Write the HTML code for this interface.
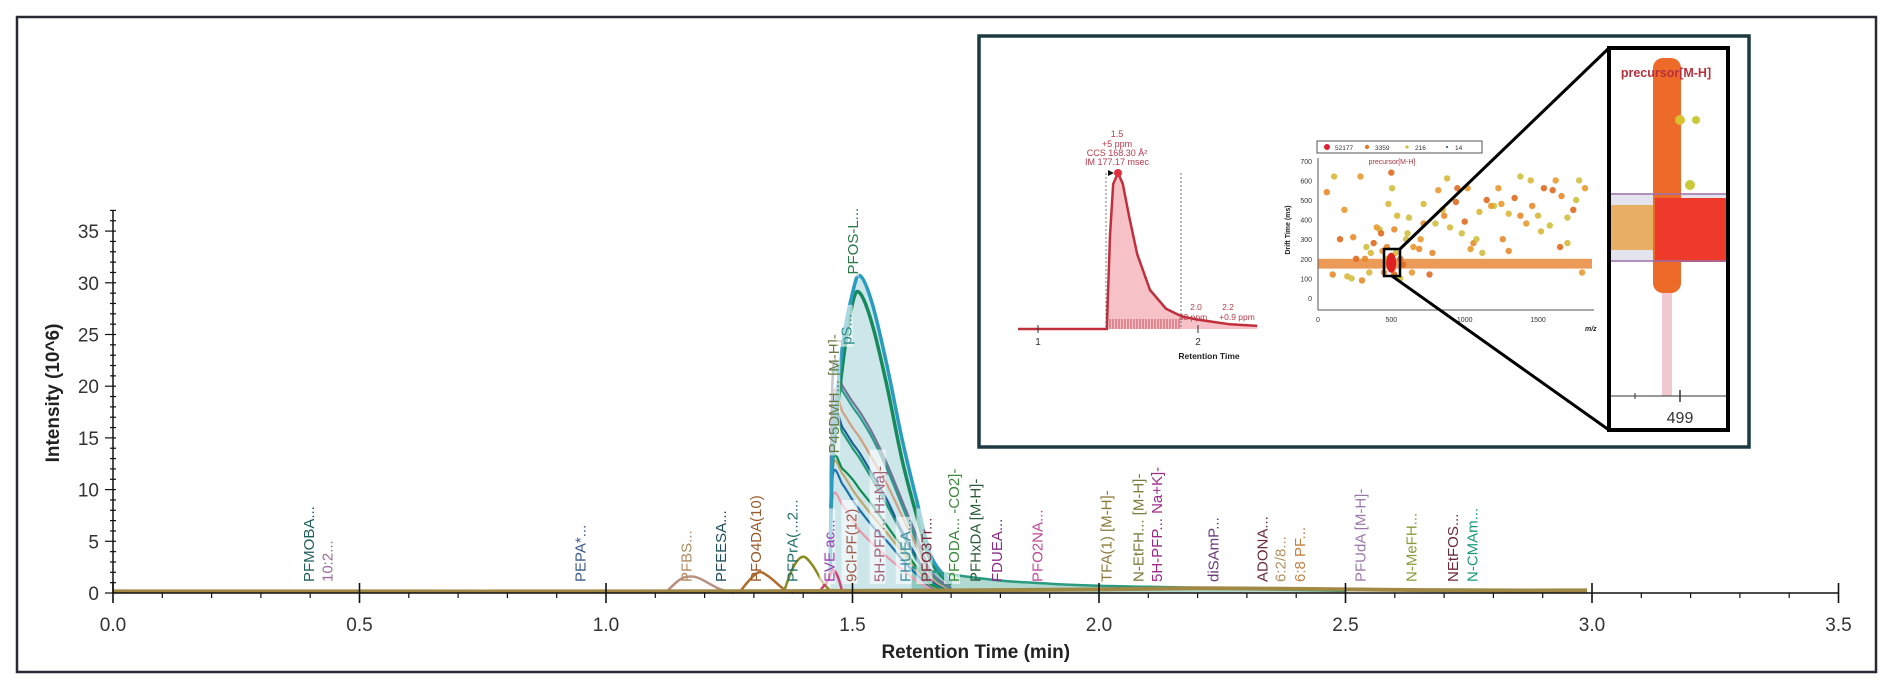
<!DOCTYPE html>
<html><head><meta charset="utf-8"><style>
html,body{margin:0;padding:0;background:#fff;}
svg{display:block;font-family:"Liberation Sans",sans-serif;}
</style></head><body>
<svg id="chart" width="1889" height="696" viewBox="0 0 1889 696" xmlns="http://www.w3.org/2000/svg">
<rect x="17" y="17" width="1859" height="655" fill="none" stroke="#2a2a35" stroke-width="2.5"/>
<g id="main"></g>
<g id="inset"></g>
</svg>
<script>
// ===== main chromatogram data =====
const xTicks = [0.0,0.5,1.0,1.5,2.0,2.5,3.0,3.5];
const yTicks = [0,5,10,15,20,25,30,35];
const clusterTimes = [1.455,1.46,1.48,1.50,1.515,1.54,1.57,1.60,1.63,1.66,1.70];
const sBlue   = [2,14,24,29,30.7,28,22,15,9,3.5,1];
const sGreen  = [2,13,22,28,29,26,20,13,7.5,3,0.8];
const sSlate  = [2,21.4,20,18.5,17.5,15.5,12.5,9,5.5,2,0.5];
const sTeal   = [2,20.6,19.5,18,17,15,12,8.5,5,1.8,0.4];
const sTan    = [2,18.7,17.5,16,15,13,10.5,7.5,4.5,1.5,0.3];
const sNavy   = [2,17.2,16,14.5,13.5,11.5,9,6,3.5,1.2,0.3];
const sGreen3 = [2,16.7,15.5,14,13,11,8.5,5.8,3.2,1,0.2];
const sGreen2 = [2,12.7,12,11,10,8.5,6.5,4.5,2.5,0.8,0.2];
const sTan2   = [2,12.2,11.5,10,9,7.5,5.8,4,2.2,0.7,0.1];
const sBlue2  = [2,11.4,10.5,9,8,6.5,5,3.3,1.8,0.6,0.1];
const sPink   = [1.5,9.3,8.5,7,6,4.8,3.5,2.3,1.2,0.4,0.1];
const tailTimes = [1.62,1.70,1.80,1.90,2.00,2.10,2.20,2.30,2.40,2.50];
const tailVals  = [2.5,1.8,1.2,0.9,0.7,0.6,0.5,0.4,0.3,0.2];
const pfbsTimes = [1.12,1.15,1.17,1.19,1.23,1.26];
const pfbsVals  = [0,1.3,1.6,1.4,0.4,0];
const pfo4Times = [1.27,1.29,1.31,1.33,1.36,1.38];
const pfo4Vals  = [0,1.2,2.0,1.6,0.4,0];
const pfprTimes = [1.36,1.38,1.40,1.42,1.44,1.46];
const pfprVals  = [0,2.5,3.5,2.6,1.0,0];
const eveTimes  = [1.43,1.45,1.46,1.47,1.48];
const eveVals   = [0,1.2,2.2,1.6,0];
const baseTimes = [0,0.5,1.0,1.5,2.0,2.2,2.4,2.6,2.8,2.99];
const baseVals  = [0.15,0.15,0.15,0.2,0.35,0.45,0.4,0.3,0.25,0.25];
const labelNames = ["PFMOBA...","10:2...","PEPA*...","PFBS...","PFEESA...","PFO4DA(10)","PFPrA(...2...","EVE ac...","9Cl-PF(12)","P45DMH... [M-H]-","pS...","PFOS-L...","5H-PFP... H+Na]-","FHUEA...","PFO3Tr...","PFODA... -CO2]-","PFHxDA [M-H]-","FDUEA...","PFO2NA...","TFA(1) [M-H]-","N-EtFH... [M-H]-","5H-PFP... Na+K]-","diSAmP...","ADONA...","6:2/8...","6:8 PF...","PFUdA [M-H]-","N-MeFH...","NEtFOS...","N-CMAm..."];
const labelTimes = [0.40,0.437,0.95,1.165,1.235,1.306,1.38,1.455,1.50,1.465,1.49,1.503,1.557,1.61,1.652,1.708,1.752,1.795,1.877,2.017,2.082,2.12,2.234,2.334,2.37,2.41,2.532,2.636,2.72,2.76];
const labelLevels = [0,0,0,0,0,0,0,0,0,13.5,24,30.8,0,0,0,0,0,0,0,0,0,0,0,0,0,0,0,0,0,0];
const labelColors = ["#1f5f5a","#9a6a9a","#3a5a8a","#b08a60","#1f4f5a","#9a5a2a","#1f6f6a","#9a3ab0","#a05a4a","#6a7a40","#2a8a8a","#2a7a4a","#a0607a","#3a8aa0","#7a2a3a","#3a8a3a","#2a5a3a","#8a2a8a","#c04a9a","#8a7a3a","#7a7a3a","#a02a8a","#6a3a7a","#6a2a3a","#b09060","#c08040","#9a7aaa","#8a9a3a","#6a2a3a","#1a9a7a"];

const NS = "http://www.w3.org/2000/svg";
const X0 = 113, XPU = 493, Y0 = 593, YPU = 10.34;
const xs = t => X0 + t*XPU;
const ys = v => Y0 - v*YPU;
function mk(tag, attrs, parent){ const e=document.createElementNS(NS,tag); for(const k in attrs) e.setAttribute(k,attrs[k]); parent.appendChild(e); return e; }
const main = document.getElementById('main');

function pathFrom(times, vals){
  const P = times.map((t,i)=>[xs(t),ys(vals[i])]);
  let d = 'M'+P[0][0].toFixed(1)+' '+P[0][1].toFixed(1);
  for(let i=0;i<P.length-1;i++){
    const p0=P[Math.max(0,i-1)],p1=P[i],p2=P[i+1],p3=P[Math.min(P.length-1,i+2)];
    let c1x=p1[0]+(p2[0]-p0[0])/6, c1y=p1[1]+(p2[1]-p0[1])/6;
    let c2x=p2[0]-(p3[0]-p1[0])/6, c2y=p2[1]-(p3[1]-p1[1])/6;
    if(i===0){c1x=p1[0];c1y=p1[1];}
    d+=` C${c1x.toFixed(1)} ${c1y.toFixed(1)} ${c2x.toFixed(1)} ${c2y.toFixed(1)} ${p2[0].toFixed(1)} ${p2[1].toFixed(1)}`;
  }
  return d;
}
let fill = mk('path',{d:pathFrom(clusterTimes,sBlue)+' L'+xs(1.70)+' '+ys(0)+' L'+xs(1.455)+' '+ys(0)+' Z',fill:'rgba(120,190,200,0.38)',stroke:'none'},main);


let tailFill = mk('path',{d:pathFrom(tailTimes,tailVals)+' L'+xs(2.5)+' '+ys(0)+' L'+xs(1.62)+' '+ys(0)+' Z',fill:'rgba(30,150,120,0.35)'},main);



// series lines
const clusterSeries = [sPink,sBlue2,sTan2,sGreen2,sGreen3,sNavy,sTan,sTeal,sSlate,sGreen,sBlue];
const clusterColors = ["#e898a8","#1b70b0","#c0a870","#0f8a50","#1a9a70","#1e5f9a","#d0a080","#2a9a8a","#6f7496","#178a5c","#2a9cc0"];
clusterSeries.forEach((vals,i)=>{
  const p = mk('path',{d:pathFrom(clusterTimes,vals),fill:'none',stroke:clusterColors[i],'stroke-width':i>=9?3.5:2.2,'stroke-linejoin':'round'},main);
  
  
});
const smalls = [[pfbsTimes,pfbsVals,"#b89080"],[pfo4Times,pfo4Vals,"#b06a2a"],[pfprTimes,pfprVals,"#8a8a20"],[eveTimes,eveVals,"#d04070"],[tailTimes,tailVals,"#2a9a80"]];
smalls.forEach(s=>{
  const p = mk('path',{d:pathFrom(s[0],s[1]),fill:'none',stroke:s[2],'stroke-width':2.5},main);
  
  
});
const base = mk('path',{d:pathFrom(baseTimes,baseVals),fill:'none',stroke:'#a08845','stroke-width':4},main);



// labels
labelNames.forEach((name,i)=>{
  const x = xs(labelTimes[i]);
  const yb = labelLevels[i] ? ys(labelLevels[i]) : 582;
  const g = mk('g',{transform:`translate(${x.toFixed(1)},${yb.toFixed(1)}) rotate(-90)`},main);
  
  
  const w = name.length*8.4;
  if (labelTimes[i]>1.44 && labelTimes[i]<1.72){
    const bg = mk('rect',{x:-2,y:-11,width:w,height:16,fill:'rgba(255,255,255,0.6)'},g);
    
    
  }
  const t = mk('text',{x:0,y:4,'font-size':'15',fill:labelColors[i]},g);
  t.textContent = name;
  
  
});

// axes
const xa = mk('line',{x1:X0,y1:Y0,x2:xs(3.5),y2:Y0,stroke:'#111','stroke-width':1.5},main);


const ya = mk('line',{x1:X0,y1:ys(37),x2:X0,y2:Y0,stroke:'#111','stroke-width':1.5},main);


for(let k=0;k<=35;k++){
  const t=k/10, major=(k%5===0);
  const tk = mk('line',{x1:xs(t),y1:major?Y0-10:Y0,x2:xs(t),y2:Y0+(major?10:5),stroke:'#111','stroke-width':major?1.6:1.2},main);
  
  
}
xTicks.forEach(v=>{
  const t = mk('text',{x:xs(v),y:Y0+38,'font-size':'19','text-anchor':'middle',fill:'#333'},main);
  t.textContent = v.toFixed(1);
  
  
});
for(let v=0;v<=37;v++){
  const major=(v%5===0);
  const tk = mk('line',{x1:X0-(major?8:3),y1:ys(v),x2:X0+3,y2:ys(v),stroke:'#111','stroke-width':1.2},main);
  
  
}
yTicks.forEach(v=>{
  const t = mk('text',{x:X0-14,y:ys(v)+7,'font-size':'19','text-anchor':'end',fill:'#333'},main);
  t.textContent = v;
  
  
});
const xt = mk('text',{x:xs(1.75),y:658,'font-size':'19','font-weight':'bold','text-anchor':'middle',fill:'#222'},main);
xt.textContent='Retention Time (min)';


const yt = mk('text',{x:0,y:0,'font-size':'19','font-weight':'bold','text-anchor':'middle',fill:'#222',transform:'translate(59,393) rotate(-90)'},main);
yt.textContent='Intensity (10^6)';



// ===== inset =====
const insetTimes = [0.875,1.40,1.43,1.45,1.47,1.50,1.53,1.57,1.62,1.70,1.80,1.90,2.00,2.10,2.20,2.37];
const insetVals  = [0,0,0,0.6,0.93,1.0,0.93,0.72,0.48,0.25,0.13,0.08,0.06,0.045,0.03,0.02];
const mzValues = [60,110,150,230,290,320,350,380,420,440,470,480,500,505,510,520,540,560,600,640,690,720,760,800,820,860,900,940,980,1020,1060,1100,1150,1200,1230,1260,1300,1340,1380,1420,1460,1500,1540,1580,1620,1660,1700,1740,1780,1820,100,200,260,330,400,450,530,580,620,700,780,880,1000,1120,1250,1380,1520,1650,1760,180,300,360,430,560,650,720,850,950,1080,1180,1300,1450,1600,1700,1800,240,470,520,610,1040];
const driftValues = [540,620,300,100,620,200,130,280,350,240,260,480,640,560,150,350,420,200,300,130,250,480,120,380,550,420,360,490,330,560,280,440,500,470,560,300,430,510,620,380,470,420,560,370,600,520,280,450,600,560,120,110,200,260,360,130,230,170,410,300,230,610,390,230,480,420,340,260,500,450,90,230,330,100,260,380,450,560,300,470,240,600,550,410,130,310,200,120,330,250];
const dotColors = ["#e88a2a","#d9b83a","#e06a20","#cfc040","#e89a30"];
const inset = document.getElementById('inset');
const ib = mk('rect',{x:979,y:36,width:770,height:411,fill:'#fff',stroke:'#1c3a40','stroke-width':3.5},inset);



const IX = t => 1038 + (t-1)*160, IY = v => 329 - v*156;
const ip = insetTimes.map((t,i)=>(i?'L':'M')+IX(t).toFixed(1)+' '+IY(insetVals[i]).toFixed(1)).join(' ');
const iarea = mk('path',{d:ip+` L${IX(2.37)} 329 L${IX(0.875)} 329 Z`,fill:'rgba(235,120,130,0.45)'},inset);


for(let x=1110;x<1180;x+=3){ const l=mk('line',{x1:x,y1:319,x2:x,y2:329,stroke:'#c03040','stroke-width':0.8},inset);   }
const iline = mk('path',{d:ip,fill:'none',stroke:'#c0303c','stroke-width':2.5},inset);


[1106,1181].forEach(x=>{ const l=mk('line',{x1:x,y1:173,x2:x,y2:329,stroke:'#555','stroke-width':0.8,'stroke-dasharray':'2,2'},inset);   });
const apex = mk('circle',{cx:1118,cy:173,r:4,fill:'#e03040'},inset);


const arr = mk('path',{d:'M1108 170 L1114 173 L1108 176 Z',fill:'#111'},inset);


[["1.5",137],["+5 ppm",147],["CCS 168.30 Å²",156],["IM 177.17 msec",165]].forEach(a=>{
  const t=mk('text',{x:1117,y:a[1],'font-size':'9','text-anchor':'middle',fill:'#b83a48'},inset); t.textContent=a[0];
   
});
[["2.0",1196,310],["2.2",1228,310],["33 ppm",1193,320],["+0.9 ppm",1237,320]].forEach(a=>{
  const t=mk('text',{x:a[1],y:a[2],'font-size':'8.5','text-anchor':'middle',fill:'#b83a48'},inset); t.textContent=a[0];
   
});
[1,2].forEach(v=>{
  const t=mk('text',{x:IX(v),y:345,'font-size':'10','text-anchor':'middle',fill:'#333'},inset); t.textContent=v;
   
  const k=mk('line',{x1:IX(v),y1:325,x2:IX(v),y2:333,stroke:'#333'},inset);  
});
const irt=mk('text',{x:1209,y:359,'font-size':'8.5','font-weight':'bold','text-anchor':'middle',fill:'#222'},inset); irt.textContent='Retention Time';
 

const SX = m => 1318 + m*0.1467, SY = d => 298 - d*0.196;
const band = mk('rect',{x:1318,y:SY(200),width:274,height:SY(150)-SY(200),fill:'#e88a3a',opacity:0.85},inset);


mzValues.forEach((m,i)=>{
  const c = mk('circle',{cx:SX(m).toFixed(1),cy:SY(driftValues[i]).toFixed(1),r:3.2,fill:dotColors[i%5],opacity:0.9},inset);
  
  
});
const hot = mk('ellipse',{cx:SX(499),cy:SY(180),rx:5,ry:10,fill:'#e02020'},inset);


const sxa=mk('line',{x1:1318,y1:310,x2:1594,y2:310,stroke:'#555'},inset);  
const sya=mk('line',{x1:1318,y1:158,x2:1318,y2:310,stroke:'#555'},inset);  
[0,100,200,300,400,500,600,700].forEach(v=>{
  const t=mk('text',{x:1312,y:SY(v)+3,'font-size':'7','text-anchor':'end',fill:'#333'},inset); t.textContent=v;
   
});
[0,500,1000,1500].forEach(v=>{
  const t=mk('text',{x:SX(v),y:322,'font-size':'7','text-anchor':'middle',fill:'#333'},inset); t.textContent=v;
   
});
const dtl=mk('text',{x:0,y:0,'font-size':'7','font-weight':'bold','text-anchor':'middle',fill:'#222',transform:'translate(1290,230) rotate(-90)'},inset); dtl.textContent='Drift Time (ms)';
 
const mzl=mk('text',{x:1585,y:331,'font-size':'7','font-style':'italic','font-weight':'bold',fill:'#222'},inset); mzl.textContent='m/z';
 
const pl=mk('text',{x:1392,y:164,'font-size':'7','text-anchor':'middle',fill:'#b0303a'},inset); pl.textContent='precursor[M-H]';
 
const lg=mk('rect',{x:1317,y:141,width:165,height:12,fill:'#fff',stroke:'#555'},inset);  
[[1327,"#e02030",3,"52177"],[1367,"#e07a30",2.2,"3359"],[1407,"#c8c040",1.6,"216"],[1447,"#1f3f8a",1,"14"]].forEach(a=>{
  const c=mk('circle',{cx:a[0],cy:147,r:a[2],fill:a[1]},inset);  
  const t=mk('text',{x:a[0]+8,y:150,'font-size':'6.5',fill:'#333'},inset); t.textContent=a[3];  
});
const sb=mk('rect',{x:1384,y:249,width:16,height:27,fill:'none',stroke:'#000','stroke-width':2.5},inset);  
const l1=mk('line',{x1:1400,y1:249,x2:1609,y2:48,stroke:'#000','stroke-width':3},inset);  
const l2=mk('line',{x1:1392,y1:276,x2:1609,y2:430,stroke:'#000','stroke-width':3},inset);  

const zp=mk('g',{},inset);  
mk('rect',{x:1609,y:48,width:119,height:382,fill:'#fff'},zp);
mk('rect',{x:1611,y:194,width:116,height:67,fill:'#e4e4ee'},zp);
mk('rect',{x:1662,y:290,width:10,height:106,fill:'#f2c8d0'},zp);
mk('rect',{x:1611,y:205,width:45,height:45,fill:'#e8a040',opacity:0.8},zp);
mk('rect',{x:1653,y:58,width:28,height:235,rx:10,fill:'#ee6a28'},zp);
mk('rect',{x:1655,y:198,width:72,height:64,fill:'#ee3a2a'},zp);
mk('circle',{cx:1680,cy:120,r:5,fill:'#d8c030'},zp);
mk('circle',{cx:1696,cy:120,r:4,fill:'#c8c838'},zp);
mk('circle',{cx:1690,cy:185,r:5,fill:'#c8c838'},zp);
mk('line',{x1:1611,y1:194,x2:1727,y2:194,stroke:'#9a70aa','stroke-width':1.5},zp);
mk('line',{x1:1611,y1:261,x2:1727,y2:261,stroke:'#9a70aa','stroke-width':1.5},zp);
mk('line',{x1:1611,y1:396,x2:1727,y2:396,stroke:'#333','stroke-width':1},zp);
mk('line',{x1:1635,y1:393,x2:1635,y2:399,stroke:'#333'},zp);
mk('line',{x1:1680,y1:390,x2:1680,y2:402,stroke:'#333','stroke-width':1.5},zp);
const zt=mk('text',{x:1666,y:77,'font-size':'12.5','font-weight':'bold','text-anchor':'middle',fill:'#b8303c'},zp); zt.textContent='precursor[M-H]';
 
const z4=mk('text',{x:1680,y:423,'font-size':'16','text-anchor':'middle',fill:'#333'},zp); z4.textContent='499';
 
const zb=mk('rect',{x:1609,y:48,width:119,height:382,fill:'none',stroke:'#000','stroke-width':4},zp);
 
</script>
</body></html>
